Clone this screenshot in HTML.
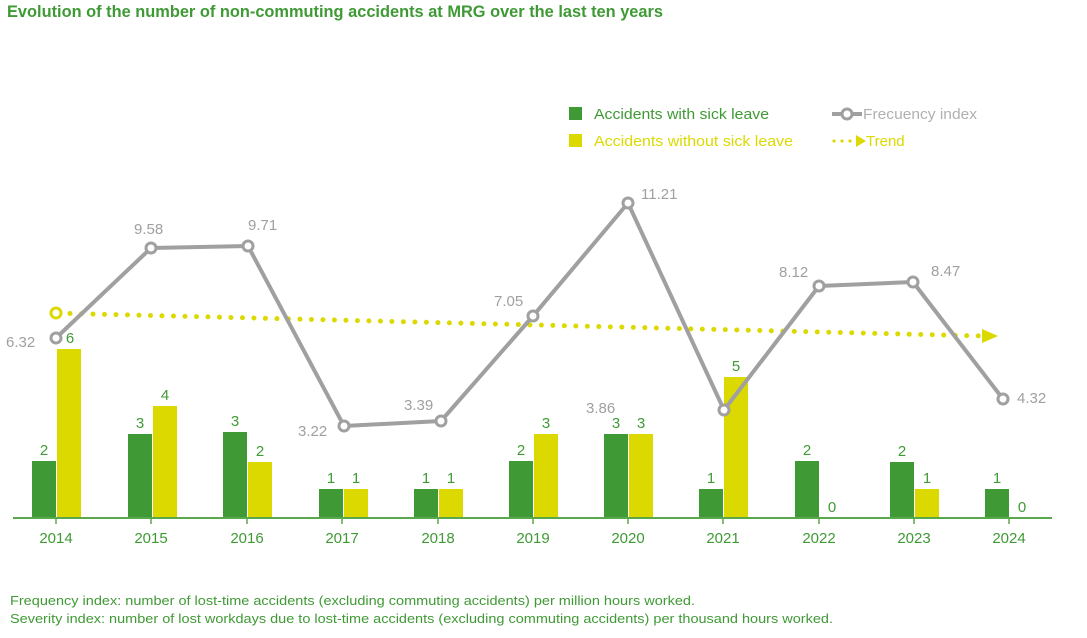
<!DOCTYPE html>
<html><head><meta charset="utf-8"><style>
body{margin:0;background:#fff;width:1087px;height:638px;overflow:hidden}
svg{display:block;font-family:"Liberation Sans",sans-serif}
</style></head><body>
<svg width="1087" height="638" viewBox="0 0 1087 638">
<text x="7" y="17" font-size="16.5" font-weight="bold" fill="#3f9a35" textLength="656" lengthAdjust="spacingAndGlyphs">Evolution of the number of non-commuting accidents at MRG over the last ten years</text>
<!-- legend -->
<rect x="569" y="107" width="13" height="13" fill="#3f9a35"/>
<text x="594" y="119" font-size="15" fill="#3f9a35" textLength="175" lengthAdjust="spacingAndGlyphs">Accidents with sick leave</text>
<rect x="569" y="134" width="13" height="13" fill="#dcd900"/>
<text x="594" y="146" font-size="15" fill="#dcd900" textLength="199" lengthAdjust="spacingAndGlyphs">Accidents without sick leave</text>
<line x1="832" y1="114" x2="862" y2="114" stroke="#a0a0a0" stroke-width="4"/>
<circle cx="847" cy="114" r="5" fill="#fff" stroke="#a0a0a0" stroke-width="3"/>
<text x="863" y="119" font-size="15" fill="#b0b0b0" textLength="114" lengthAdjust="spacingAndGlyphs">Frecuency index</text>
<g fill="#dcd900"><circle cx="834" cy="141" r="1.6"/><circle cx="842" cy="141" r="1.6"/><circle cx="850" cy="141" r="1.6"/><polygon points="856,135 866,141 856,147"/></g>
<text x="866" y="146" font-size="15" fill="#dcd900">Trend</text>
<!-- bars -->
<g fill="#3f9a35">
<rect x="32" y="461" width="24" height="57"/><rect x="128" y="434" width="24" height="84"/><rect x="223" y="432" width="24" height="86"/><rect x="319" y="489" width="24" height="29"/><rect x="414" y="489" width="24" height="29"/><rect x="509" y="461" width="24" height="57"/><rect x="604" y="434" width="24" height="84"/><rect x="699" y="489" width="24" height="29"/><rect x="795" y="461" width="24" height="57"/><rect x="890" y="462" width="24" height="56"/><rect x="985" y="489" width="24" height="29"/>
</g>
<g fill="#dcd900">
<rect x="57" y="349" width="24" height="169"/><rect x="153" y="406" width="24" height="112"/><rect x="248" y="462" width="24" height="56"/><rect x="344" y="489" width="24" height="29"/><rect x="439" y="489" width="24" height="29"/><rect x="534" y="434" width="24" height="84"/><rect x="629" y="434" width="24" height="84"/><rect x="724" y="377" width="24" height="141"/><rect x="915" y="489" width="24" height="29"/>
</g>
<line x1="13" y1="518" x2="1052" y2="518" stroke="#5aa84c" stroke-width="2"/>
<g stroke="#5aa84c" stroke-width="1.5">
<line x1="56" y1="518" x2="56" y2="524"/><line x1="151" y1="518" x2="151" y2="524"/><line x1="247" y1="518" x2="247" y2="524"/><line x1="342" y1="518" x2="342" y2="524"/><line x1="438" y1="518" x2="438" y2="524"/><line x1="533" y1="518" x2="533" y2="524"/><line x1="628" y1="518" x2="628" y2="524"/><line x1="723" y1="518" x2="723" y2="524"/><line x1="819" y1="518" x2="819" y2="524"/><line x1="914" y1="518" x2="914" y2="524"/><line x1="1009" y1="518" x2="1009" y2="524"/>
</g>
<g font-size="15" fill="#3f9a35" text-anchor="middle">
<text x="56" y="543">2014</text><text x="151" y="543">2015</text><text x="247" y="543">2016</text><text x="342" y="543">2017</text><text x="438" y="543">2018</text><text x="533" y="543">2019</text><text x="628" y="543">2020</text><text x="723" y="543">2021</text><text x="819" y="543">2022</text><text x="914" y="543">2023</text><text x="1009" y="543">2024</text>
<text x="44" y="455">2</text><text x="70" y="343">6</text>
<text x="140" y="428">3</text><text x="165" y="400">4</text>
<text x="235" y="426">3</text><text x="260" y="456">2</text>
<text x="331" y="483">1</text><text x="356" y="483">1</text>
<text x="426" y="483">1</text><text x="451" y="483">1</text>
<text x="521" y="455">2</text><text x="546" y="428">3</text>
<text x="616" y="428">3</text><text x="641" y="428">3</text>
<text x="711" y="483">1</text><text x="736" y="371">5</text>
<text x="807" y="455">2</text><text x="832" y="512">0</text>
<text x="902" y="456">2</text><text x="927" y="483">1</text>
<text x="997" y="483">1</text><text x="1022" y="512">0</text>
</g>
<!-- trend -->
<line x1="70" y1="313.5" x2="982" y2="336" stroke="#dcd900" stroke-width="5" stroke-linecap="round" stroke-dasharray="0 11.5"/>
<circle cx="56" cy="313" r="5" fill="#fff" stroke="#dcd900" stroke-width="3"/>
<polygon points="982,329 998,336 982,343" fill="#dcd900"/>
<!-- frequency line -->
<polyline points="56,338 151,248 248,246 344,426 441,421 533,316 628,203 724,410 819,286 913,282 1003,399" fill="none" stroke="#a0a0a0" stroke-width="4" stroke-linejoin="round"/>
<g fill="#fff" stroke="#a0a0a0" stroke-width="3">
<circle cx="56" cy="338" r="5"/><circle cx="151" cy="248" r="5"/><circle cx="248" cy="246" r="5"/><circle cx="344" cy="426" r="5"/><circle cx="441" cy="421" r="5"/><circle cx="533" cy="316" r="5"/><circle cx="628" cy="203" r="5"/><circle cx="724" cy="410" r="5"/><circle cx="819" cy="286" r="5"/><circle cx="913" cy="282" r="5"/><circle cx="1003" cy="399" r="5"/>
</g>
<g font-size="15" fill="#a0a0a0">
<text x="6" y="347">6.32</text><text x="134" y="234">9.58</text><text x="248" y="230">9.71</text><text x="298" y="436">3.22</text><text x="404" y="410">3.39</text><text x="494" y="306">7.05</text><text x="641" y="199">11.21</text><text x="586" y="413">3.86</text><text x="779" y="277">8.12</text><text x="931" y="276">8.47</text><text x="1017" y="403">4.32</text>
</g>
<text x="10" y="605" font-size="13" fill="#3f9a35" textLength="685" lengthAdjust="spacingAndGlyphs">Frequency index: number of lost-time accidents (excluding commuting accidents) per million hours worked.</text>
<text x="10" y="623" font-size="13" fill="#3f9a35" textLength="823" lengthAdjust="spacingAndGlyphs">Severity index: number of lost workdays due to lost-time accidents (excluding commuting accidents) per thousand hours worked.</text>
</svg>
</body></html>
